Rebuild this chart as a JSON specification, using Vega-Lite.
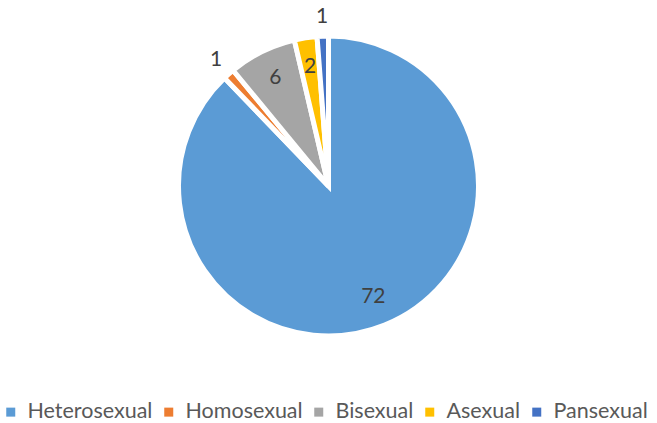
{
  "$schema": "https://vega.github.io/schema/vega-lite/v6.json",
  "width": 657,
  "height": 372,
  "padding": 0,
  "background": "white",
  "config": {"view": {"stroke": null}, "font": "Lato"},
  "data": {
    "values": [
      {"orientation": "Heterosexual", "count": 72, "rank": 1},
      {"orientation": "Homosexual", "count": 1, "rank": 2},
      {"orientation": "Bisexual", "count": 6, "rank": 3},
      {"orientation": "Asexual", "count": 2, "rank": 4},
      {"orientation": "Pansexual", "count": 1, "rank": 5}
    ]
  },
  "encoding": {
    "theta": {"field": "count", "type": "quantitative", "stack": true},
    "order": {"field": "rank", "type": "quantitative"},
    "color": {
      "field": "orientation",
      "type": "nominal",
      "scale": {
        "domain": ["Heterosexual", "Homosexual", "Bisexual", "Asexual", "Pansexual"],
        "range": ["#5B9BD5", "#ED7D31", "#A5A5A5", "#FFC000", "#4472C4"]
      },
      "legend": {
        "orient": "bottom",
        "direction": "horizontal",
        "title": null,
        "symbolType": "square",
        "symbolSize": 81,
        "symbolStrokeWidth": 0,
        "labelFont": "Lato",
        "labelFontSize": 21.5,
        "labelColor": "#595959",
        "labelOffset": 6,
        "columnPadding": 5,
        "offset": 29,
        "labelLimit": 300
      }
    }
  },
  "layer": [
    {
      "mark": {"type": "arc", "outerRadius": 150, "stroke": "white", "strokeWidth": 5}
    },
    {
      "mark": {"type": "text", "font": "Lato", "fontSize": 21, "fill": "#404040"},
      "encoding": {
        "text": {"field": "count", "type": "quantitative"},
        "color": {"value": "#404040"},
        "radius": {
          "field": "count",
          "type": "quantitative",
          "scale": {"type": "linear", "domain": [1, 2], "range": [169, 120], "clamp": true, "zero": false}
        }
      }
    }
  ]
}
